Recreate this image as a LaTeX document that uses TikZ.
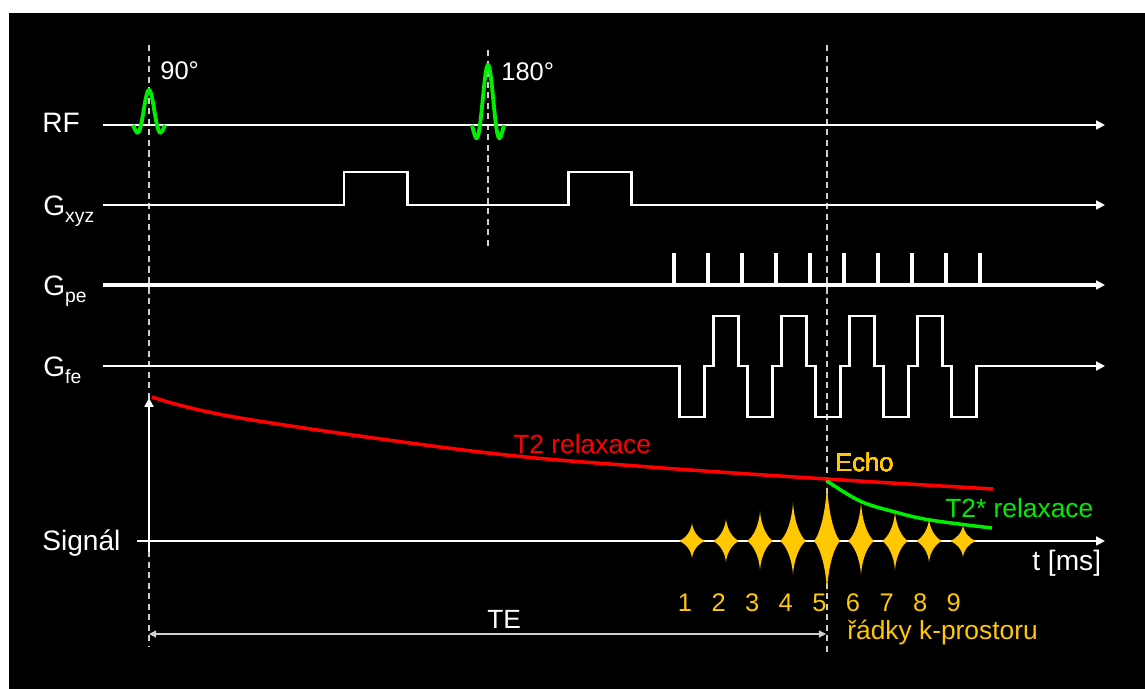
\documentclass[tikz,border=0pt]{standalone}
\usepackage{fontspec}
\setmainfont{Liberation Sans}
\usetikzlibrary{arrows.meta}
\definecolor{pulsegreen}{HTML}{00EE00}
\definecolor{decayred}{HTML}{FF0000}
\definecolor{echogold}{HTML}{FFC800}
\definecolor{guidegray}{HTML}{D0D0D0}
\newcommand{\gsub}[1]{\raisebox{-4.5pt}{\fontsize{11}{11}\selectfont #1}}
\newcommand{\rfpulse}[2]{%
  \draw[pulse] plot[domain=-16:16, samples=60]
    ({#1+\x}, {125-#2*sin(22.5*\x)/(pi*\x/8)});}
\newcommand{\echoburst}[4]{%
  \fill[burst, shift={(#1,541)}] (0,-#2)
    .. controls (-0.08*#4,-0.5*#2) and (-0.55*#4,-0.12*#2) .. (-#4,0)
    .. controls (-0.55*#4,0.12*#3) and (-0.08*#4,0.5*#3) .. (0,#3)
    .. controls (0.08*#4,0.5*#3) and (0.55*#4,0.12*#3) .. (#4,0)
    .. controls (0.55*#4,-0.12*#2) and (0.08*#4,-0.5*#2) .. cycle;}

\begin{document}
\begin{tikzpicture}[x=0.02cm, y=-0.02cm,
  axis/.style={white, line width=1.7pt, -{Triangle[length=5pt, width=5pt]}},
  grad/.style={white, line width=1.7pt},
  guide/.style={guidegray, line width=1pt, dash pattern=on 3.5pt off 2.5pt},
  pulse/.style={pulsegreen, line width=2.2pt},
  burst/.style={fill=echogold, draw=none},
  lbl/.style={white, anchor=base west, inner sep=0pt, font=\fontsize{16}{19}\selectfont},
  note/.style={anchor=base west, inner sep=0pt, font=\fontsize{14.5}{17}\selectfont},
]
  % frame
  \fill[white] (0,0) rectangle (1145,689);
  \fill[black] (9,13) rectangle (1145,689);

  % guide lines
  \draw[guide] (149,45) -- (149,646);
  \draw[guide] (488,50) -- (488,248);
  \draw[guide] (827,45) -- (827,655);

  % channel labels
  \node[lbl] (rf) at (42,133) {RF};
  \node[lbl] (gxyz) at (43,215) {G\gsub{xyz}};
  \node[lbl] (gpe) at (43,295) {G\gsub{pe}};
  \node[lbl] (gfe) at (43,376) {G\gsub{fe}};
  \node[lbl] (sig) at (42,550) {Signál};

  % RF
  \draw[axis] (103,125) -- (1105,125);
  \rfpulse{149}{35}
  \rfpulse{488}{60}
  \node[note, white] (p90) at (160,80) {90°};
  \node[note, white] (p180) at (501,81) {180°};

  % Gxyz
  \draw[axis, grad] (103,205) -- (344,205) -- (344,172) -- (407,172) -- (407,205)
    -- (568,205) -- (568,172) -- (631,172) -- (631,205) -- (1105,205);

  % Gpe
  \draw[axis, line width=2.2pt] (103,285) -- (1105,285);
  \foreach \i in {0,...,9}
    \draw[grad, line width=2pt] ({674+34*\i},285) -- ++(0,-32);

  % Gfe
  \draw[axis, grad] (103,366) -- (679,366)
    foreach \i in {1,...,4} { -- ++(0,51) -- ++(25,0) -- ++(0,-51) -- ++(9,0)
      -- ++(0,-50) -- ++(25,0) -- ++(0,50) -- ++(9,0) }
    -- ++(0,51) -- ++(25,0) -- ++(0,-51) -- (1105,366);

  % signal axes
  \coordinate (s0) at (149,552);
  \coordinate (stop) at (149,398);
  \draw[axis] (s0) -- (stop);
  \draw[axis] (137,541) -- (1105,541);
  \node[lbl] (tms) at (1032,570) {t [ms]};

  % decay curves
  \draw[decayred, line width=2pt] plot[smooth, tension=0.6] coordinates
    {(152,397) (240,418) (480,452) (650,467) (827,479) (993,489)};
  \node[note, decayred, font=\fontsize{15}{18}\selectfont] (t2) at (513,453) {T2 relaxace};
  \draw[pulsegreen, line width=2pt] plot[smooth, tension=0.6] coordinates
    {(827,481) (860,501) (895,512) (930,520) (992,528)};
  \node[note, pulsegreen, font=\fontsize{15}{18}\selectfont] (t2s) at (945,517) {T2* relaxace};

  % echoes
  \foreach \bx/\bu/\bd in {692/18/17, 726/22/21, 760/30/29, 793/39/34, 827/58/51,
                           861/39/34, 895/29/29, 929/22/21, 963/16/16}
    \echoburst{\bx}{\bu}{\bd}{13}
  \node[note, echogold] (echo) at (835,471) {Echo};
  \foreach \n in {1,...,9}
    \node[note, echogold, anchor=base] (k\n) at ({651.4+33.6*\n},611) {\n};
  \node[note, echogold, font=\fontsize{15}{18}\selectfont] (rows) at (847,639) {řádky k-prostoru};

  % TE
  \coordinate (te0) at (149,634);
  \coordinate (te1) at (826,634);
  \draw[guidegray, line width=0.6pt, {Triangle[length=4pt, width=4pt]}-{Triangle[length=4pt, width=4pt]}] (te0) -- (te1);
  \node[lbl, font=\fontsize{15}{18}\selectfont] (te) at (487,628) {TE};
\end{tikzpicture}
\end{document}
